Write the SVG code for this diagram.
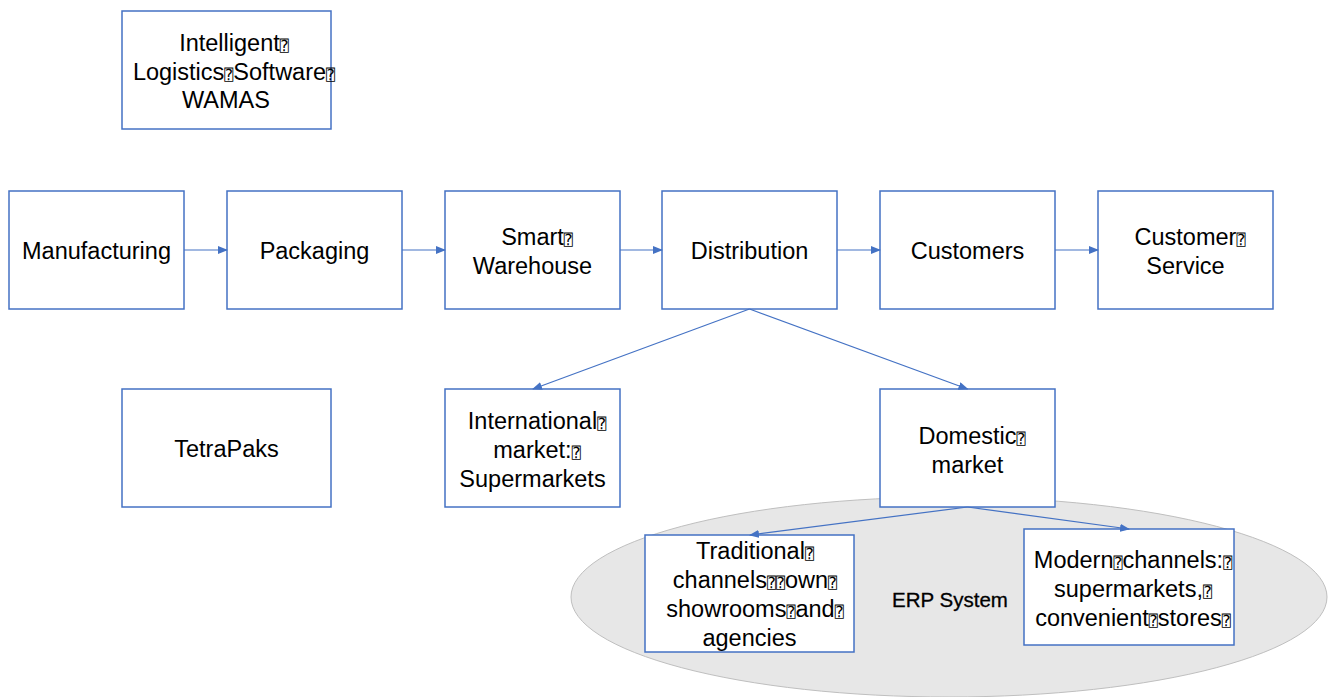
<svg xmlns="http://www.w3.org/2000/svg" width="1333" height="697" viewBox="0 0 1333 697">
<defs>
<style>
.box{fill:#fff;stroke:#4472C4;stroke-width:1.5}
.t{font-family:"Liberation Sans",Arial,sans-serif;font-size:23.5px;fill:#000;text-anchor:middle}
.q{font-family:"DejaVu Sans Mono","DejaVu Sans",monospace;font-size:15px;fill:#000}
.c{stroke:#4472C4;stroke-width:1.2;fill:none;marker-end:url(#ah)}
</style>
<marker id="ah" markerWidth="10" markerHeight="8" refX="9" refY="4" orient="auto" markerUnits="userSpaceOnUse">
<path d="M0,0 L10,4 L0,8 Z" fill="#4472C4"/>
</marker>
</defs>
<rect width="1333" height="697" fill="#fff"/>
<g id="erp">
<ellipse cx="949" cy="597" rx="378" ry="100" fill="#e7e7e7" stroke="#bfbfbf" stroke-width="1"/>
<text x="950" y="607" class="t" style="font-size:20.5px;stroke:#000;stroke-width:0.3">ERP System</text>
</g>
<g id="wamas">
<rect class="box" x="122" y="11" width="209" height="118"/>
<text class="t"><tspan x="234" y="51">Intelligent<tspan class="q">⍰</tspan></tspan><tspan x="234" y="80">Logistics<tspan class="q">⍰</tspan>Software<tspan class="q">⍰</tspan></tspan><tspan x="226" y="108">WAMAS</tspan></text>
</g>
<g id="manufacturing">
<rect class="box" x="9" y="191" width="175" height="118"/>
<text class="t" x="96.5" y="259">Manufacturing</text>
</g>
<g id="packaging">
<rect class="box" x="227" y="191" width="175" height="118"/>
<text class="t" x="314.5" y="259">Packaging</text>
</g>
<g id="warehouse">
<rect class="box" x="445" y="191" width="175" height="118"/>
<text class="t"><tspan x="537" y="245">Smart<tspan class="q">⍰</tspan></tspan><tspan x="532.5" y="274">Warehouse</tspan></text>
</g>
<g id="distribution">
<rect class="box" x="662" y="191" width="175" height="118"/>
<text class="t" x="749.5" y="259">Distribution</text>
</g>
<g id="customers">
<rect class="box" x="880" y="191" width="175" height="118"/>
<text class="t" x="967.5" y="259">Customers</text>
</g>
<g id="service">
<rect class="box" x="1098" y="191" width="175" height="118"/>
<text class="t"><tspan x="1190" y="245">Customer<tspan class="q">⍰</tspan></tspan><tspan x="1185.5" y="274">Service</tspan></text>
</g>
<g id="tetrapaks">
<rect class="box" x="122" y="389" width="209" height="118"/>
<text class="t" x="226.5" y="457">TetraPaks</text>
</g>
<g id="international">
<rect class="box" x="445" y="389" width="175" height="118"/>
<text class="t"><tspan x="537" y="429">International<tspan class="q">⍰</tspan></tspan><tspan x="537" y="458">market:<tspan class="q">⍰</tspan></tspan><tspan x="532.5" y="487">Supermarkets</tspan></text>
</g>
<g id="domestic">
<rect class="box" x="880" y="389" width="175" height="118"/>
<text class="t"><tspan x="972" y="444">Domestic<tspan class="q">⍰</tspan></tspan><tspan x="967.5" y="473">market</tspan></text>
</g>
<g id="traditional">
<rect class="box" x="645" y="535" width="209" height="117"/>
<text class="t"><tspan x="755" y="559">Traditional<tspan class="q">⍰</tspan></tspan><tspan x="755" y="588">channels<tspan class="q">⍰⍰</tspan>own<tspan class="q">⍰</tspan></tspan><tspan x="755" y="617">showrooms<tspan class="q">⍰</tspan>and<tspan class="q">⍰</tspan></tspan><tspan x="749.5" y="646">agencies</tspan></text>
</g>
<g id="modern">
<rect class="box" x="1024" y="529" width="210" height="116"/>
<text class="t"><tspan x="1133" y="568">Modern<tspan class="q">⍰</tspan>channels:<tspan class="q">⍰</tspan></tspan><tspan x="1133" y="597">supermarkets,<tspan class="q">⍰</tspan></tspan><tspan x="1133" y="626">convenient<tspan class="q">⍰</tspan>stores<tspan class="q">⍰</tspan></tspan></text>
</g>
<g id="connectors">
<line class="c" x1="184" y1="250" x2="227" y2="250"/>
<line class="c" x1="402" y1="250" x2="445" y2="250"/>
<line class="c" x1="620" y1="250" x2="662" y2="250"/>
<line class="c" x1="837" y1="250" x2="880" y2="250"/>
<line class="c" x1="1055" y1="250" x2="1098" y2="250"/>
<line class="c" x1="749.5" y1="309" x2="533" y2="389"/>
<line class="c" x1="749.5" y1="309" x2="967.5" y2="389"/>
<line class="c" x1="967.5" y1="507" x2="750" y2="535"/>
<line class="c" x1="967.5" y1="507" x2="1129" y2="529"/>
</g>
</svg>
